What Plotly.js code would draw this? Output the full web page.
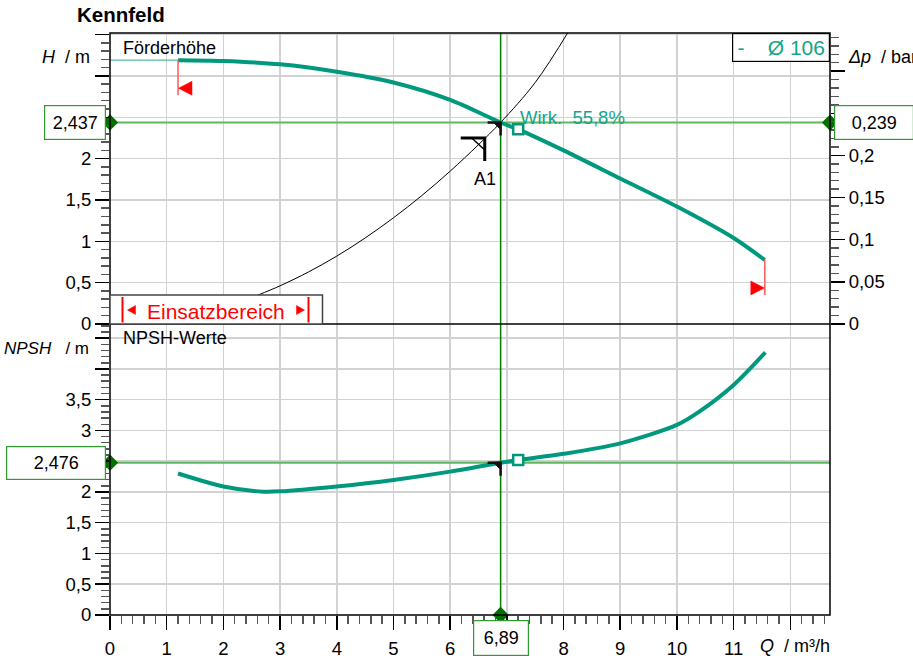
<!DOCTYPE html>
<html><head><meta charset="utf-8">
<script src="https://cdn.plot.ly/plotly-3.0.1.min.js"></script>
<style>html,body{margin:0;padding:0;background:#fff}#chart{width:913px;height:658px}</style>
</head><body><div id="chart"></div>
<script>
// ---- data ----
const qHead = [1.2, 2, 3, 4, 5, 6, 6.89, 7.2, 8, 9, 10, 11, 11.55];
const head  = [3.19, 3.18, 3.14, 3.05, 2.92, 2.71, 2.437, 2.354, 2.10, 1.76, 1.42, 1.04, 0.774];
const qHeadExt = [0, 1.2];
const headExt  = [3.19, 3.19];
const qNpsh = [1.2, 2, 2.7, 3, 4, 5, 6, 6.89, 7.2, 8, 9, 10, 10.4, 11, 11.56];
const npsh  = [2.30, 2.09, 2.005, 2.01, 2.09, 2.195, 2.33, 2.476, 2.52, 2.62, 2.79, 3.09, 3.31, 3.74, 4.27];
const qSys = [2.6, 3, 3.5, 4, 4.5, 5, 5.5, 6, 6.5, 6.89, 7.5, 8.1];
const hSys = [0.347, 0.462, 0.629, 0.821, 1.040, 1.284, 1.553, 1.848, 2.169, 2.437, 2.92, 3.55];
const opQ = 6.89, opH = 2.437, opNpsh = 2.476, opDp = 0.239;
const bepQ = 7.2, bepH = 2.354, bepNpsh = 2.52;
const dutyQ = 6.61, dutyH = 2.25;
const xTickVals = [0,1,2,3,4,5,6,7,8,9,10,11,12];
const xTickText = ['0','1','2','3','4','5','6','','8','9','10','11',''];
const hTickVals = [0,0.5,1,1.5,2,2.5,3,3.5];
const hTickText = ['0','0,5','1','1,5','2','','',''];
const nTickVals = [0,0.5,1,1.5,2,2.5,3,3.5,4,4.5];
const nTickText = ['0','0,5','1','1,5','2','','3','3,5','',''];
const pTickVals = [0,0.05,0.1,0.15,0.2,0.25,0.3];
const pTickText = ['0','0,05','0,1','0,15','0,2','',''];
const xMax = 12.7, hMax = 3.519, nMax = 4.73, dpPerM = 0.0981;

const TEAL = '#00997d', TEXTTEAL = '#16a58a', GREEN = '#008000', LGREEN = '#5fb760', DGREEN = '#006f00';
const FONT = 'Liberation Sans, Arial, sans-serif';

const traces = [
  {x:[0,xMax], y:[opH,opH], xaxis:'x', yaxis:'y', mode:'lines', line:{color:LGREEN, width:2}, hoverinfo:'skip'},
  {x:[0,xMax], y:[opNpsh,opNpsh], xaxis:'x', yaxis:'y2', mode:'lines', line:{color:LGREEN, width:2}, hoverinfo:'skip'},
  {x:[opQ,opQ], y:[0,hMax], xaxis:'x', yaxis:'y', mode:'lines', line:{color:GREEN, width:1.5}, hoverinfo:'skip'},
  {x:[opQ,opQ], y:[0,nMax], xaxis:'x', yaxis:'y2', mode:'lines', line:{color:GREEN, width:1.5}, hoverinfo:'skip'},
  {x:qSys, y:hSys, xaxis:'x', yaxis:'y', mode:'lines', line:{color:'#000', width:1, shape:'spline'}, hoverinfo:'skip'},
  {x:qHeadExt, y:headExt, xaxis:'x', yaxis:'y', mode:'lines', line:{color:'#4fb9a6', width:1.2}, hoverinfo:'skip'},
  {x:qHead, y:head, xaxis:'x', yaxis:'y', mode:'lines', line:{color:TEAL, width:4, shape:'spline', smoothing:0.8}, hoverinfo:'skip'},
  {x:qNpsh, y:npsh, xaxis:'x', yaxis:'y2', mode:'lines', line:{color:TEAL, width:4, shape:'spline', smoothing:0.8}, hoverinfo:'skip'},
  {x:[bepQ], y:[bepH], xaxis:'x', yaxis:'y', mode:'markers', marker:{symbol:'square', size:10, color:'#fff', line:{color:TEAL, width:2.5}}, hoverinfo:'skip'},
  {x:[bepQ], y:[bepNpsh], xaxis:'x', yaxis:'y2', mode:'markers', marker:{symbol:'square', size:10, color:'#fff', line:{color:TEAL, width:2.5}}, hoverinfo:'skip'},
  {x:[0], y:[opH], xaxis:'x', yaxis:'y', mode:'markers', cliponaxis:false, marker:{symbol:'diamond', size:12.5, color:DGREEN}, hoverinfo:'skip'},
  {x:[xMax], y:[opDp], xaxis:'x', yaxis:'y3', mode:'markers', cliponaxis:false, marker:{symbol:'diamond', size:12.5, color:DGREEN}, hoverinfo:'skip'},
  {x:[0], y:[opNpsh], xaxis:'x', yaxis:'y2', mode:'markers', cliponaxis:false, marker:{symbol:'diamond', size:12.5, color:DGREEN}, hoverinfo:'skip'},
  {x:[opQ], y:[0], xaxis:'x', yaxis:'y2', mode:'markers', cliponaxis:false, marker:{symbol:'diamond', size:12.5, color:DGREEN}, hoverinfo:'skip'}
];

function corner(xa, ya, q, v, big){
  const s = [];
  if(big){
    s.push({type:'path', xref:xa, yref:ya, xsizemode:'pixel', ysizemode:'pixel', xanchor:q, yanchor:v,
      path:'M-24,0 L0,0 L0,-23', line:{color:'#000', width:3}});
    s.push({type:'path', xref:xa, yref:ya, xsizemode:'pixel', ysizemode:'pixel', xanchor:q, yanchor:v,
      path:'M-13,0 L0,-12', line:{color:'#000', width:1.5}});
  } else {
    s.push({type:'path', xref:xa, yref:ya, xsizemode:'pixel', ysizemode:'pixel', xanchor:q, yanchor:v,
      path:'M-13,0 L0,0 L0,-13', line:{color:'#111', width:2.5}});
    s.push({type:'path', xref:xa, yref:ya, xsizemode:'pixel', ysizemode:'pixel', xanchor:q, yanchor:v,
      path:'M-7,0 L0,0 L0,-7 Z', fillcolor:'#111', line:{color:'#111', width:1}});
  }
  return s;
}

const px = {xref:'paper', yref:'paper', xsizemode:'pixel', ysizemode:'pixel', xanchor:0, yanchor:0.5};
const shapes = [
  {type:'rect', xref:'paper', yref:'paper', x0:0, x1:1, y0:0, y1:1, line:{color:'#000', width:1.5}, layer:'above'},
  {type:'line', xref:'paper', yref:'paper', x0:0, x1:1, y0:0.5, y1:0.5, line:{color:'#000', width:1.5}, layer:'above'},
  Object.assign({type:'path', path:'M0,0 L0,29 L212.5,29 L212.5,0 Z', fillcolor:'#fff', line:{color:'#444', width:1.5}, layer:'above'}, px),
  Object.assign({type:'path', path:'M12.5,1.5 L12.5,27', line:{color:'#ff0000', width:2}, layer:'above'}, px),
  Object.assign({type:'path', path:'M198.5,1.5 L198.5,27', line:{color:'#ff0000', width:2}, layer:'above'}, px),
  Object.assign({type:'path', path:'M17.5,14 L25.5,18.5 L25.5,9.5 Z', fillcolor:'#ff0000', line:{color:'#ff0000', width:0.5}, layer:'above'}, px),
  Object.assign({type:'path', path:'M194.5,14 L186.5,18.5 L186.5,9.5 Z', fillcolor:'#ff0000', line:{color:'#ff0000', width:0.5}, layer:'above'}, px),
  {type:'path', xref:'x', yref:'y', xsizemode:'pixel', ysizemode:'pixel', xanchor:qHead[0], yanchor:head[0],
    path:'M0,0 L0,-35', line:{color:'#ff5a5a', width:1.5}},
  {type:'path', xref:'x', yref:'y', xsizemode:'pixel', ysizemode:'pixel', xanchor:qHead[0], yanchor:head[0],
    path:'M0.5,-28 L14,-21 L14,-35 Z', fillcolor:'#ff0000', line:{color:'#ff0000', width:0.5}},
  {type:'path', xref:'x', yref:'y', xsizemode:'pixel', ysizemode:'pixel', xanchor:qHead[qHead.length-1], yanchor:head[head.length-1],
    path:'M0,0 L0,-35', line:{color:'#ff5a5a', width:1.5}},
  {type:'path', xref:'x', yref:'y', xsizemode:'pixel', ysizemode:'pixel', xanchor:qHead[qHead.length-1], yanchor:head[head.length-1],
    path:'M-0.5,-28 L-14,-21 L-14,-35 Z', fillcolor:'#ff0000', line:{color:'#ff0000', width:0.5}}
].concat(corner('x','y',opQ,opH,false), corner('x','y2',opQ,opNpsh,false), corner('x','y',dutyQ,dutyH,true));

const f18 = {family:FONT, size:18, color:'#000'};
const f17 = {family:FONT, size:17, color:'#000'};
const boxAnn = (o) => Object.assign({showarrow:false, bgcolor:'#fff', bordercolor:'#2f9a2f', borderwidth:1.2, borderpad:1, font:f18}, o);
const annotations = [
  boxAnn({text:'2,437', xref:'paper', x:0, xanchor:'right', xshift:-4, yref:'y', y:opH, yanchor:'middle', width:58, height:31}),
  boxAnn({text:'0,239', xref:'paper', x:1, xanchor:'left', xshift:4, yref:'y3', y:opDp, yanchor:'middle', width:76, height:31}),
  boxAnn({text:'2,476', xref:'paper', x:0, xanchor:'right', xshift:-4, yref:'y2', y:opNpsh, yanchor:'middle', width:96, height:30}),
  boxAnn({text:'6,89', xref:'x', x:opQ, xanchor:'center', yref:'paper', y:0, yanchor:'top', yshift:-5, width:52, height:32}),
  {text:'-&nbsp;&nbsp;&nbsp;&nbsp;Ø 106', showarrow:false, xref:'paper', x:1, xanchor:'right', yref:'paper', y:1, yanchor:'top',
    width:94, height:25, bgcolor:'#fff', bordercolor:'#000', borderwidth:1.2, borderpad:1, font:{family:FONT, size:21, color:TEXTTEAL}},
  {text:'Wirk.&nbsp;&nbsp;55,8%', showarrow:false, xref:'x', x:opQ, xanchor:'left', xshift:17, yref:'y', y:opH, yanchor:'middle', yshift:5,
    font:{family:FONT, size:18.5, color:TEXTTEAL}},
  {text:'A1', showarrow:false, xref:'x', x:dutyQ, xanchor:'center', yref:'y', y:dutyH, yanchor:'top', yshift:-29, font:f18},
  {text:'Förderhöhe', showarrow:false, xref:'paper', x:0, xanchor:'left', xshift:11, yref:'paper', y:1, yanchor:'middle', yshift:-15, font:f18},
  {text:'NPSH-Werte', showarrow:false, xref:'paper', x:0, xanchor:'left', xshift:11, yref:'paper', y:0.5, yanchor:'middle', yshift:-14, font:f18},
  {text:'<i>H</i>&nbsp;&nbsp;/&nbsp;m', showarrow:false, xref:'paper', x:0, xanchor:'right', xshift:-18, yref:'paper', y:1, yanchor:'middle', yshift:-24, font:f18},
  {text:'<i>NPSH</i>&nbsp;&nbsp;&nbsp;/&nbsp;m', showarrow:false, xref:'paper', x:0, xanchor:'right', xshift:-19, yref:'paper', y:0.5, yanchor:'middle', yshift:-24, font:f17},
  {text:'<i>Δp</i>&nbsp;&nbsp;/&nbsp;bar', showarrow:false, xref:'paper', x:1, xanchor:'left', xshift:16, yref:'paper', y:1, yanchor:'middle', yshift:-24, font:f18},
  {text:'<i>Q</i>&nbsp;&nbsp;/&nbsp;m³/h', showarrow:false, xref:'paper', x:1, xanchor:'right', xshift:2, yref:'paper', y:0, yanchor:'middle', yshift:-31, font:f18},
  {text:'Einsatzbereich', showarrow:false, xref:'paper', x:0, xanchor:'center', xshift:105.5, yref:'paper', y:0.5, yanchor:'middle', yshift:13, font:{family:FONT, size:21, color:'#ff0000'}}
];

const axBase = {ticks:'outside', ticklen:14, tickwidth:1.5, tickcolor:'#000', showline:false, zeroline:false,
  tickfont:{family:FONT, size:18.5, color:'#000'}, gridcolor:'#d2d2d2', gridwidth:1.5, tickmode:'array'};
const minorBase = {ticks:'outside', ticklen:8, tickwidth:1.5, tickcolor:'#555', showgrid:false};

const layout = {
  width:913, height:658, paper_bgcolor:'#fff', plot_bgcolor:'#fff', showlegend:false,
  margin:{l:110, r:83, t:33, b:43}, separators:', ', font:{family:FONT, size:18, color:'#000'},
  title:{text:'<b>Kennfeld</b>', xref:'container', yref:'container', x:77/913, xanchor:'left', y:1-15/658, yanchor:'middle', font:{family:FONT, size:20.5, color:'#000'}},
  xaxis: Object.assign({}, axBase, {anchor:'y2', range:[0,xMax], tickvals:xTickVals, ticktext:xTickText, showgrid:true, ticklabelstandoff:3,
    minor:Object.assign({}, minorBase, {dtick:0.2, tick0:0})}),
  yaxis: Object.assign({}, axBase, {domain:[0.5,1], anchor:'x', range:[0,hMax], tickvals:hTickVals, ticktext:hTickText, showgrid:true,
    minor:Object.assign({}, minorBase, {dtick:0.1, tick0:0})}),
  yaxis2: Object.assign({}, axBase, {domain:[0,0.5], anchor:'x', range:[0,nMax], tickvals:nTickVals, ticktext:nTickText, showgrid:true,
    minor:Object.assign({}, minorBase, {dtick:0.1, tick0:0})}),
  yaxis3: Object.assign({}, axBase, {overlaying:'y', side:'right', anchor:'x', range:[0,hMax*dpPerM], tickvals:pTickVals, ticktext:pTickText, showgrid:false,
    minor:Object.assign({}, minorBase, {dtick:0.01, tick0:0})}),
  shapes: shapes,
  annotations: annotations
};

Plotly.newPlot('chart', traces, layout, {staticPlot:true, displayModeBar:false});
</script></body></html>
